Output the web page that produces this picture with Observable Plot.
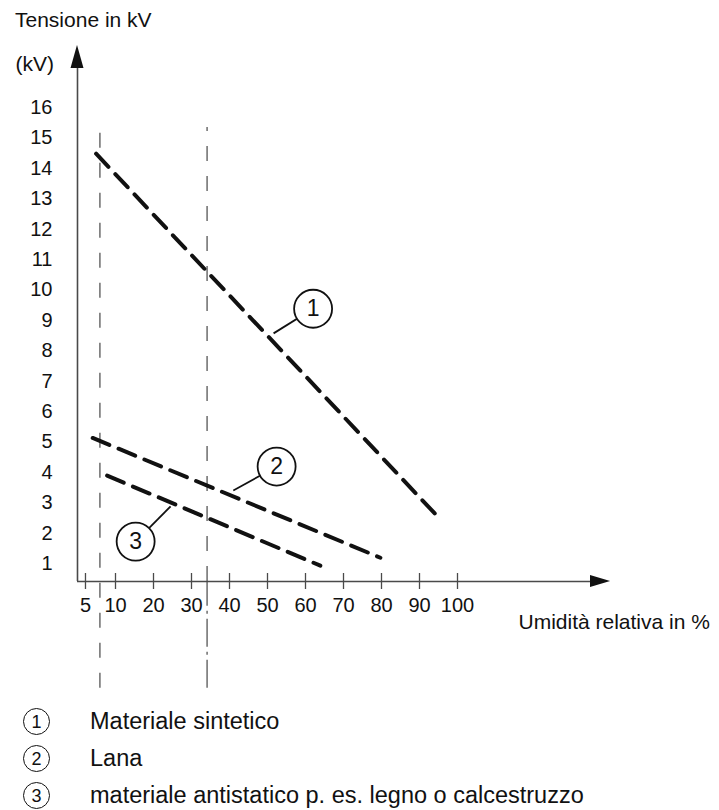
<!DOCTYPE html>
<html>
<head>
<meta charset="utf-8">
<script src="https://cdn.jsdelivr.net/npm/d3@7"></script>
<script src="https://cdn.jsdelivr.net/npm/@observablehq/plot@0.6"></script>
<style>
  html, body { margin: 0; padding: 0; background: #fff; }
  body { width: 719px; height: 810px; overflow: hidden; font-family: "Liberation Sans", Arial, sans-serif; color: #111; }
  #title { height: 40px; line-height: 40px; padding-left: 15px; font-size: 21px; }
  #chart svg { display: block; overflow: visible; }
  #legend { padding-top: 3px; }
  .row { display: flex; align-items: center; height: 37px; }
  .circ { margin-left: 23px; width: 27px; height: 27px; box-sizing: border-box; border: 1.7px solid #111; border-radius: 50%;
          display: flex; align-items: center; justify-content: center; font-size: 18px; line-height: 1; }
  .txt { margin-left: 40px; font-size: 23.5px; }
</style>
</head>
<body>
<div id="title">Tensione in kV</div>
<div id="chart"></div>
<div id="legend"></div>
<script>
// ---- data ----
const xTickValues = [2.1, 10, 20, 30, 40, 50, 60, 70, 80, 90, 100];
const xTickLabels = ["5", "10", "20", "30", "40", "50", "60", "70", "80", "90", "100"];
const yTickValues = [1, 2, 3, 4, 5, 6, 7, 8, 9, 10, 11, 12, 13, 14, 15, 16];

const seriesIds = ["1", "2", "3"];
const humidity1 = [4.9, 95.8];
const voltage1 = [14.48, 2.41];
const humidity2 = [4.0, 79.7];
const voltage2 = [5.13, 1.19];
const humidity3 = [7.8, 63.9];
const voltage3 = [3.89, 0.93];

const refHumidity = [5.9, 34.1];
const refTop = 15.34;
const refBottom = -3.1;

const calloutX = [62.0, 52.4, 15.3];
const calloutY = [9.38, 4.19, 1.72];
const leaderX = [51.6, 41.0, 24.5];
const leaderY = [8.57, 3.40, 2.88];

const legendLabels = ["Materiale sintetico", "Lana", "materiale antistatico p. es. legno o calcestruzzo"];

const yUnitLabel = "(kV)";
const xAxisLabel = "Umidità relativa in %";

// axis geometry (data units)
const axisY0 = 0.408;
const xAxisEnd = 135;
const xArrowTip = 140.3;
const xArrowHalf = 0.197;
const yAxisEnd = 17.3;
const yArrowBase = 17.28;
const yArrowTip = 18.04;
const yArrowHalf = 1.71;
const yUnitPos = [-16.3, 17.41];
const xLabelPos = [116.05, -0.94];

// ---- build tables ----
const lines = [
  ...humidity1.map((h, i) => ({id: "1", x: h, y: voltage1[i]})),
  ...humidity2.map((h, i) => ({id: "2", x: h, y: voltage2[i]})),
  ...humidity3.map((h, i) => ({id: "3", x: h, y: voltage3[i]}))
];
const callouts = seriesIds.map((id, i) => ({id, x: calloutX[i], y: calloutY[i], lx: leaderX[i], ly: leaderY[i]}));
const tickLabelMap = new Map(xTickValues.map((v, i) => [v, xTickLabels[i]]));

const xArrow = [
  {x: xArrowTip - (xArrowTip - xAxisEnd), y1: axisY0 - xArrowHalf, y2: axisY0 + xArrowHalf},
  {x: xArrowTip, y1: axisY0, y2: axisY0}
];
const yArrow = [
  {y: yArrowBase, x1: -yArrowHalf, x2: yArrowHalf},
  {y: yArrowTip, x1: 0, x2: 0}
];

const axisColor = "#4a4a4a";
const ink = "#111";

const chart = Plot.plot({
  width: 719,
  height: 660,
  marginLeft: 77,
  marginRight: 262,
  marginTop: 67,
  marginBottom: 119,
  x: {domain: [0, 100]},
  y: {domain: [axisY0, 16]},
  style: {fontFamily: "'Liberation Sans', Arial, sans-serif", color: ink, overflow: "visible", background: "white"},
  marks: [
    // reference vertical lines
    Plot.ruleX([refHumidity[0]], {y1: refBottom, y2: refTop, stroke: "#555", strokeWidth: 1.3, strokeDasharray: "15,15"}),
    Plot.ruleX([refHumidity[1]], {y1: axisY0, y2: refTop, stroke: "#555", strokeWidth: 1.3, strokeDasharray: "15,15"}),
    Plot.ruleX([refHumidity[1]], {y1: refBottom, y2: axisY0, stroke: "#555", strokeWidth: 1.3, strokeDasharray: "28,5,3,5"}),
    // axes lines and arrows
    Plot.ruleY([axisY0], {x1: 0, x2: xAxisEnd, stroke: axisColor, strokeWidth: 1.6}),
    Plot.areaY(xArrow, {x: "x", y1: "y1", y2: "y2", fill: ink}),
    Plot.ruleX([0], {y1: axisY0, y2: yAxisEnd, stroke: axisColor, strokeWidth: 1.6}),
    Plot.areaX(yArrow, {y: "y", x1: "x1", x2: "x2", fill: ink}),
    Plot.axisX(xTickValues, {tickSize: 16, dy: -8, tickPadding: 8, fontSize: 20, stroke: axisColor, strokeWidth: 1.3,
      tickFormat: d => tickLabelMap.get(d), label: null}),
    Plot.axisY(yTickValues, {tickSize: 0, tickPadding: 25, fontSize: 20, tickFormat: d => String(d), label: null}),
    // data lines
    Plot.line(lines, {x: "x", y: "y", z: "id", stroke: ink, strokeWidth: 4, strokeDasharray: "18,10"}),
    // callouts
    Plot.link(callouts, {x1: "lx", y1: "ly", x2: "x", y2: "y", stroke: ink, strokeWidth: 1.8}),
    Plot.dot(callouts, {x: "x", y: "y", r: 19, fill: "white", stroke: ink, strokeWidth: 1.8}),
    Plot.text(callouts, {x: "x", y: "y", text: "id", fontSize: 23, fill: ink}),
    // labels
    Plot.text([yUnitLabel], {x: yUnitPos[0], y: yUnitPos[1], text: d => d, textAnchor: "start", fontSize: 21, fill: ink}),
    Plot.text([xAxisLabel], {x: xLabelPos[0], y: xLabelPos[1], text: d => d, textAnchor: "start", fontSize: 21, fill: ink})
  ]
});
document.getElementById("chart").appendChild(chart);

const legend = document.getElementById("legend");
legendLabels.forEach((label, i) => {
  const row = document.createElement("div");
  row.className = "row";
  const c = document.createElement("span");
  c.className = "circ";
  c.textContent = seriesIds[i];
  const t = document.createElement("span");
  t.className = "txt";
  t.textContent = label;
  row.appendChild(c);
  row.appendChild(t);
  legend.appendChild(row);
});
</script>
</body>
</html>
